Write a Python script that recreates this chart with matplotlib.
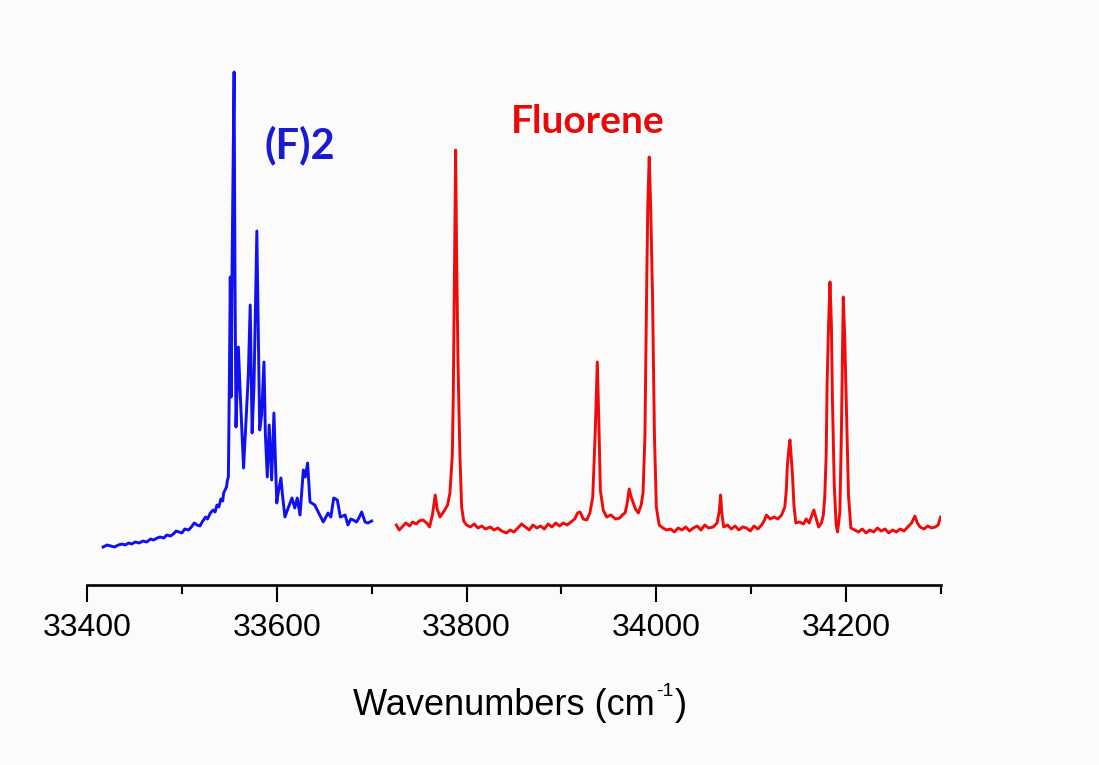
import matplotlib
matplotlib.use("Agg")
import matplotlib.pyplot as plt
from matplotlib.ticker import MultipleLocator

# (F)2 dimer spectrum
dimer_x = [33417, 33421, 33425, 33429, 33433, 33437, 33440, 33444, 33447, 33451,
           33455, 33459, 33463, 33467, 33470, 33474, 33477, 33481, 33484, 33488,
           33491, 33494, 33497, 33500, 33503, 33507, 33510, 33513, 33516, 33519,
           33522, 33525, 33527, 33530, 33533, 33535, 33537, 33539, 33541, 33543,
           33544, 33546, 33547, 33548, 33549, 33550, 33551, 33552, 33553, 33555,
           33556, 33557, 33559.5, 33562, 33565, 33568, 33570, 33572, 33574, 33576,
           33579, 33582, 33584, 33586.5, 33588, 33590, 33592, 33594.6, 33597, 33600,
           33602, 33604.4, 33606, 33608.6, 33612, 33616, 33619, 33621.6, 33624.5, 33628,
           33630, 33632.5, 33635, 33640, 33643.7, 33649, 33654, 33657, 33660, 33663.8,
           33667, 33672, 33675, 33678, 33680.6, 33684, 33686, 33689.5, 33693, 33696,
           33698, 33700]
dimer_y = [38, 40, 39, 38, 40, 41, 40, 42, 41, 43,
           42, 44, 43, 46, 45, 47, 48, 47, 50, 49,
           51, 54, 53, 52, 56, 55, 58, 62, 60, 59,
           64, 68, 66, 72, 75, 73, 80, 78, 86, 84,
           92, 96, 98, 105, 108, 200, 308, 188, 330, 513,
           300, 158, 238, 180, 117, 172, 210, 280, 152, 200,
           354, 155, 170, 223, 150, 108, 160, 105, 172, 82,
           95, 107, 90, 68, 77, 87, 77, 87, 70, 115,
           108, 122, 83, 80, 73, 63, 72, 68, 87, 85,
           68, 70, 60, 66, 65, 63, 66, 73, 63, 62,
           63, 64]

# Fluorene monomer spectrum
mono_x = [33726, 33729, 33732, 33736, 33740, 33743, 33747, 33750, 33754, 33758,
          33761, 33764, 33767, 33769, 33772, 33775, 33777, 33780, 33782.5, 33785,
          33786, 33787.5, 33788.5, 33789.5, 33791, 33793, 33794.8, 33797, 33800, 33804,
          33808, 33812, 33816, 33820, 33825, 33829, 33833, 33837, 33842, 33846,
          33850, 33854, 33858, 33862, 33866, 33870, 33874, 33878, 33882, 33886,
          33890, 33894, 33898, 33902, 33906, 33910, 33914, 33917, 33919.5, 33923,
          33926.6, 33930, 33933, 33935.5, 33937.8, 33939.5, 33941, 33944, 33947.6, 33952,
          33957, 33961.6, 33964, 33967, 33969, 33971.4, 33973.5, 33975.7, 33978, 33981,
          33984, 33986, 33988, 33989.7, 33991, 33992.5, 33994, 33996, 33998, 34000,
          34003, 34007, 34011, 34015, 34019, 34023, 34027, 34031, 34035, 34039,
          34043, 34047, 34051, 34055, 34060, 34064, 34066.5, 34067.7, 34069, 34071,
          34075, 34079, 34083, 34087, 34091, 34095, 34099, 34103, 34107, 34111,
          34114, 34116, 34120, 34124, 34128, 34132, 34135.4, 34137, 34138, 34139.5,
          34140.8, 34142, 34143.6, 34145, 34147, 34151, 34155, 34158, 34161, 34164,
          34166, 34168, 34171, 34174, 34176, 34177.5, 34179, 34180, 34181.5, 34183,
          34184.5, 34185.6, 34187.5, 34189.5, 34191, 34193.4, 34195, 34197, 34198.5, 34200.5,
          34202.5, 34205, 34209, 34213, 34217, 34221, 34225, 34229, 34233, 34237,
          34241, 34245, 34249, 34253, 34257, 34261, 34265, 34269, 34272.5, 34275,
          34278, 34282, 34286, 34290, 34294, 34297, 34299.5]
mono_y = [60, 55, 58, 62, 59, 63, 61, 64, 65, 62,
          58, 70, 90, 76, 68, 72, 75, 80, 92, 130,
          188, 330, 435, 330, 222, 130, 78, 64, 60, 58,
          61, 57, 59, 56, 58, 55, 57, 54, 52, 55,
          53, 57, 61, 58, 55, 60, 57, 59, 56, 61,
          58, 62, 59, 62, 60, 63, 66, 72, 73, 66,
          65, 72, 88, 150, 223, 160, 95, 75, 68, 70,
          66, 67, 70, 72, 80, 96, 88, 82, 76, 72,
          80, 92, 150, 288, 380, 428, 380, 288, 150, 78,
          60, 57, 55, 56, 53, 57, 55, 58, 54, 57,
          59, 55, 60, 57, 58, 62, 75, 90, 72, 58,
          60, 56, 59, 55, 58, 57, 54, 59, 56, 60,
          65, 70, 66, 68, 66, 70, 78, 95, 118, 135,
          145, 130, 108, 80, 62, 63, 61, 66, 62, 70,
          75, 68, 58, 62, 70, 88, 130, 202, 260, 303,
          260, 185, 100, 60, 53, 73, 150, 288, 250, 168,
          90, 57, 55, 53, 56, 52, 55, 53, 57, 54,
          56, 52, 55, 53, 56, 54, 58, 62, 69, 62,
          58, 56, 59, 57, 58, 60, 68]

tick_values = [33400, 33600, 33800, 34000, 34200]
x_range = (33400, 34300)

fig = plt.figure(figsize=(10.99, 7.65), dpi=100)
fig.patch.set_facecolor('#fbfbfb')
ax = fig.add_axes([87 / 1099, 180 / 765, 854 / 1099, 525 / 765])
ax.set_facecolor('none')

ax.plot(dimer_x, dimer_y, color='#1010f0', lw=2.1)
ax.plot(mono_x, mono_y, color='#f00a0a', lw=2.1)

ax.set_xlim(*x_range)
ax.set_ylim(0, 525)

for side in ['top', 'right', 'left']:
    ax.spines[side].set_visible(False)
ax.spines['bottom'].set_linewidth(1.9)
ax.set_yticks([])

ax.set_xticks(tick_values)
ax.xaxis.set_minor_locator(MultipleLocator(100))
ax.tick_params(axis='x', which='major', length=12.5, width=1.5, pad=8,
               labelsize=23, direction='out')
ax.tick_params(axis='x', which='minor', length=6.5, width=1.5, direction='out')
for lab in ax.get_xticklabels():
    lab.set_family('Liberation Sans')

# axis title in pieces so the superscript keeps a plain hyphen
renderer = fig.canvas.get_renderer()
base_y = 50 / 765
main = fig.text(0, base_y, 'Wavenumbers (cm', fontsize=26, family='Liberation Sans',
                va='baseline')
sup = fig.text(0, base_y + 19 / 765, '-1', fontsize=14, family='Liberation Sans',
               va='baseline')
close = fig.text(0, base_y, ')', fontsize=26, family='Liberation Sans', va='baseline')
w_main = main.get_window_extent(renderer).width
w_sup = sup.get_window_extent(renderer).width
w_close = close.get_window_extent(renderer).width
start = 520 - (w_main + w_sup + w_close + 2) / 2
main.set_x(start / 1099)
sup.set_x((start + w_main + 1) / 1099)
close.set_x((start + w_main + w_sup + 2) / 1099)

fig.text(300 / 1099, (765 - 158) / 765, '(F)2', ha='center', va='baseline',
         fontsize=30, fontweight='bold', color='#1a1ad2', family=['Lato', 'DejaVu Sans'])
fig.text(588 / 1099, (765 - 133) / 765, 'Fluorene', ha='center', va='baseline',
         fontsize=28, fontweight='bold', color='#e80a0a', family=['Lato', 'DejaVu Sans'])

fig.savefig('out.png', dpi=100, facecolor=fig.get_facecolor())
